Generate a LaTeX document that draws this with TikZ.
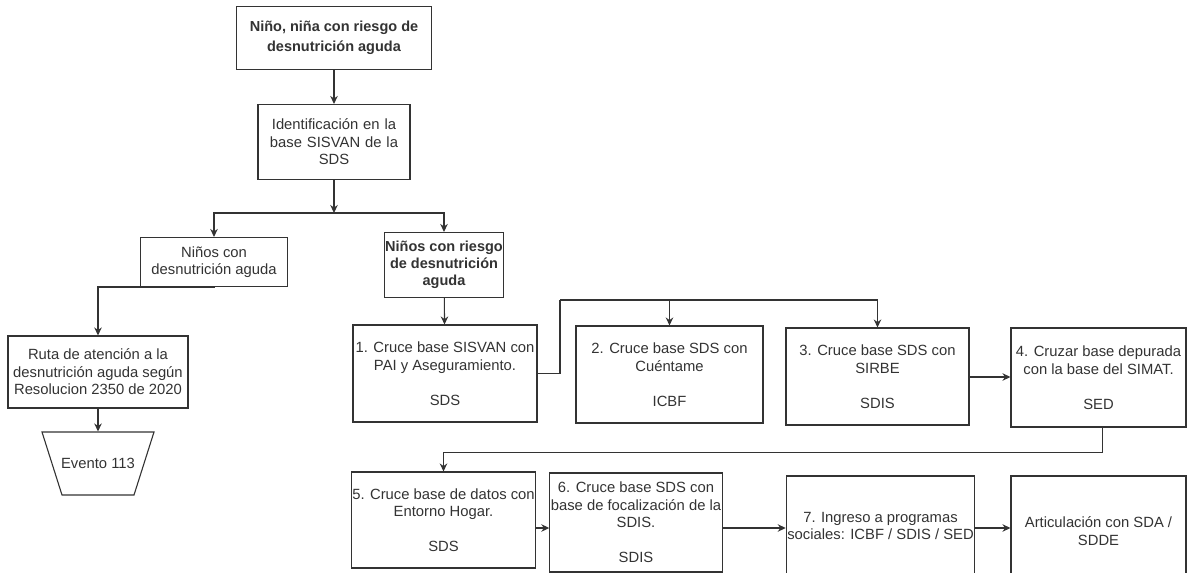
\documentclass[tikz,border=0pt]{standalone}
\usepackage{fontspec}
\setmainfont{Liberation Sans}
\usetikzlibrary{arrows.meta}

\begin{document}
\begin{tikzpicture}[x=1pt,y=-1pt,>={Stealth[length=8pt,width=7.5pt]},line width=1.1pt]
    \tikzstyle{box}=[rectangle,draw=black!80,fill=white,align=center,inner sep=1pt,
        text=black!80,font=\fontsize{14.8}{17.5}\selectfont]
    \tikzstyle{hdr}=[box,font=\fontsize{14.5}{20}\selectfont\bfseries]
    \tikzstyle{link}=[draw=black!80,->]
    \useasboundingbox (0,0) rectangle (1187,573);

    % top of the route
    \node[hdr,minimum width=195pt,minimum height=63pt] (nino) at (334,38)
        {Niño, niña con riesgo de\\desnutrición aguda};
    \node[box,minimum width=152pt,minimum height=75pt,text width=140pt] (ident) at (334,142)
        {Identificación en la\\base SISVAN de la\\SDS};
    \coordinate (fork) at (334,213);

    % left branch
    \node[box,minimum width=147pt,minimum height=49pt] (desnut) at (214,262)
        {Niños con\\desnutrición aguda};
    \node[box,minimum width=180pt,minimum height=72pt] (ruta) at (98,372)
        {Ruta de atención a la\\desnutrición aguda según\\Resolucion 2350 de 2020};
    \draw[draw=black!80] (42,432) -- (154,432) -- (134,495) -- (62,495) -- cycle;
    \node[box,draw=none,fill=none,minimum height=63pt] (evento) at (98,463.5) {Evento 113};

    % right branch
    \node[hdr,minimum width=118pt,minimum height=65pt,font=\fontsize{14.5}{17}\selectfont\bfseries] (riesgo) at (444,265)
        {Niños con riesgo\\de desnutrición\\aguda};

    \foreach \name/\x/\y/\w/\h/\txt in {
        cruceA/445/373.5/184/97/{1. Cruce base SISVAN con\\PAI y Aseguramiento.\\ \\SDS},
        cruceB/669.5/374.5/187/97/{2. Cruce base SDS con\\Cuéntame\\ \\ICBF},
        cruceC/877.5/376.5/183/97/{3. Cruce base SDS con\\SIRBE\\ \\SDIS},
        cruceD/1098.5/377.5/175/99/{4. Cruzar base depurada\\con la base del SIMAT.\\ \\SED},
        cruceE/443.5/520/183/96/{5. Cruce base de datos con\\Entorno Hogar.\\ \\SDS},
        cruceF/636/522.5/138/99/{6. Cruce base SDS con\\base de focalización de la\\SDIS.\\ \\SDIS},
        ingreso/880.5/526/187/100/{7. Ingreso a programas\\sociales: ICBF / SDIS / SED},
        artic/1098.5/531/175/110/{Articulación con SDA /\\SDDE}}
        \node[box,minimum width=\w pt,minimum height=\h pt] (\name) at (\x,\y) {\txt};

    \coordinate (bus) at (560,300);
    \coordinate (rowA) at (0,377);
    \coordinate (rowB) at (0,528);

    \draw[link] (nino) -- (ident);
    \draw[link] (ident) -- (fork);
    \draw[link] (fork) -| (desnut);
    \draw[link] (fork) -| (riesgo);
    \draw[link] (desnut) -- ++(0,25) -| (ruta);
    \draw[link] (ruta) -- (evento);
    \draw[link] (riesgo) -- (cruceA);
    \draw[draw=black!80] (cruceA.east) -| (bus);
    \draw[link] (bus) -| (cruceB);
    \draw[link] (bus) -| (cruceC);
    \draw[link] (cruceC.east |- rowA) -- (cruceD.west |- rowA);
    \draw[link] ([xshift=4pt]cruceD.south) -- ++(0,25) -| (cruceE);
    \draw[link] (cruceE.east |- rowB) -- (cruceF.west |- rowB);
    \draw[link] (cruceF.east |- rowB) -- (ingreso.west |- rowB);
    \draw[link] (ingreso.east |- rowB) -- (artic.west |- rowB);
\end{tikzpicture}
\end{document}
